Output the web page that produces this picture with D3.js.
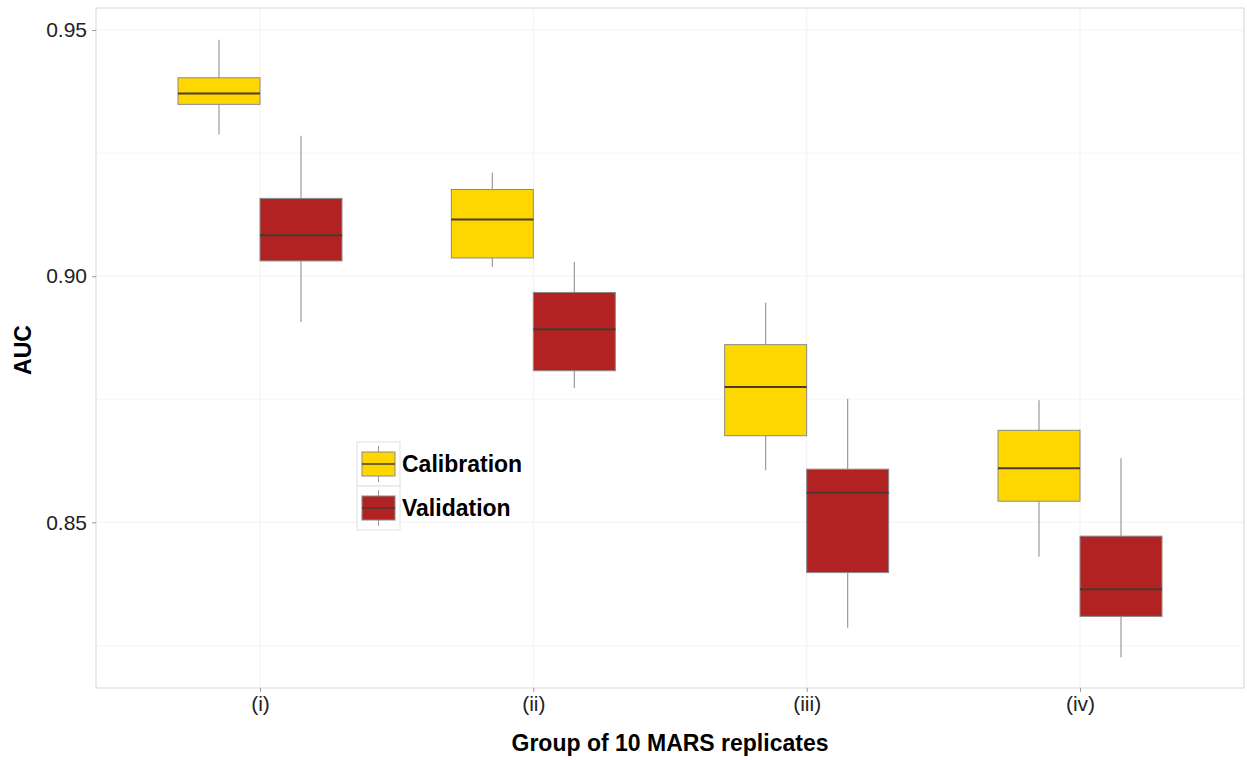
<!DOCTYPE html>
<html>
<head>
<meta charset="utf-8">
<script src="https://cdn.jsdelivr.net/npm/d3@7"></script>
<style>
  body { margin: 0; background: #fff; }
  text { font-family: "Liberation Sans", Arial, sans-serif; }
</style>
</head>
<body>
<svg id="chart" width="1247" height="760"></svg>
<script>
// groups of 10 MARS replicates
var groups = ['(i)', '(ii)', '(iii)', '(iv)']
// [lower whisker, q1, median, q3, upper whisker]
var calibration = [
  [0.9288, 0.9349, 0.9371, 0.9403, 0.9480],
  [0.9019, 0.9037, 0.9115, 0.9176, 0.9210],
  [0.8606, 0.8676, 0.8775, 0.8861, 0.8946],
  [0.8430, 0.8543, 0.8610, 0.8687, 0.8748]
]
var validation = [
  [0.8907, 0.9031, 0.9083, 0.9158, 0.9285],
  [0.8773, 0.8808, 0.8892, 0.8967, 0.9029],
  [0.8286, 0.8398, 0.8560, 0.8608, 0.8751],
  [0.8226, 0.8309, 0.8364, 0.8472, 0.8630]
]
var seriesNames = ['Calibration', 'Validation']
var yTicks = [0.85, 0.90, 0.95]
var yMinor = [0.825, 0.875, 0.925]

var colors = {Calibration: '#FFD700', Validation: '#B22222'}

var svg = d3.select('#chart')
var panel = {left: 96, right: 1244, top: 8, bottom: 688}

var x = d3.scalePoint()
    .domain(groups)
    .range([panel.left, panel.right])
    .padding(0.6)
var step = x.step()
var boxW = step * 0.3

var y = d3.scaleLinear()
    .domain([0.81636, 0.95447])
    .range([panel.bottom, panel.top])

// grid
var grid = svg.append('g')
grid.selectAll('.minor').data(yMinor).enter().append('line')
    .attr('x1', panel.left).attr('x2', panel.right)
    .attr('y1', d => y(d)).attr('y2', d => y(d))
    .attr('stroke', '#f6f6f6').attr('stroke-width', 1)
grid.selectAll('.major').data(yTicks).enter().append('line')
    .attr('x1', panel.left).attr('x2', panel.right)
    .attr('y1', d => y(d)).attr('y2', d => y(d))
    .attr('stroke', '#f1f1f1').attr('stroke-width', 1)
grid.selectAll('.vmajor').data(groups).enter().append('line')
    .attr('x1', d => x(d)).attr('x2', d => x(d))
    .attr('y1', panel.top).attr('y2', panel.bottom)
    .attr('stroke', '#f1f1f1').attr('stroke-width', 1)

// boxes
var boxData = []
groups.forEach(function (g, i) {
  boxData.push({group: g, series: 'Calibration', s: calibration[i], off: -0.15})
  boxData.push({group: g, series: 'Validation', s: validation[i], off: 0.15})
})

var boxes = svg.append('g').selectAll('g.box')
    .data(boxData)
    .enter().append('g')
    .classed('box', true)
    .attr('transform', d => `translate(${x(d.group) + d.off * step}, 0)`)

boxes.append('line')
    .attr('x1', 0).attr('x2', 0)
    .attr('y1', d => y(d.s[4])).attr('y2', d => y(d.s[3]))
    .attr('stroke', '#9a9a9a').attr('stroke-width', 1.2)
boxes.append('line')
    .attr('x1', 0).attr('x2', 0)
    .attr('y1', d => y(d.s[1])).attr('y2', d => y(d.s[0]))
    .attr('stroke', '#9a9a9a').attr('stroke-width', 1.2)
boxes.append('rect')
    .attr('x', -boxW / 2)
    .attr('width', boxW)
    .attr('y', d => y(d.s[3]))
    .attr('height', d => y(d.s[1]) - y(d.s[3]))
    .attr('fill', d => colors[d.series])
    .attr('stroke', '#8a8a8a').attr('stroke-width', 1)
boxes.append('line')
    .attr('x1', -boxW / 2).attr('x2', boxW / 2)
    .attr('y1', d => y(d.s[2])).attr('y2', d => y(d.s[2]))
    .attr('stroke', '#4a3a30').attr('stroke-width', 2)

// panel border
svg.append('rect')
    .attr('x', panel.left).attr('y', panel.top)
    .attr('width', panel.right - panel.left)
    .attr('height', panel.bottom - panel.top)
    .attr('fill', 'none').attr('stroke', '#dcdcdc').attr('stroke-width', 1.2)

// axes
var yAxis = svg.append('g')
    .attr('transform', `translate(${panel.left}, 0)`)
    .call(d3.axisLeft(y).tickValues(yTicks).tickFormat(d3.format('.2f')).tickSize(4).tickPadding(5))
var xAxis = svg.append('g')
    .attr('transform', `translate(0, ${panel.bottom})`)
    .call(d3.axisBottom(x).tickSize(4).tickPadding(4))
;[yAxis, xAxis].forEach(function (a) {
  a.select('.domain').remove()
  a.selectAll('.tick line').attr('stroke', '#999')
  a.selectAll('.tick text')
      .attr('fill', '#222')
      .style('font-size', '21px')
      .style('font-family', '"Liberation Sans", Arial, sans-serif')
})

svg.append('text')
    .attr('x', 670)
    .attr('y', 751)
    .attr('text-anchor', 'middle')
    .style('font-size', '23px').style('font-weight', 'bold')
    .text('Group of 10 MARS replicates')
svg.append('text')
    .attr('transform', `translate(31, 350) rotate(-90)`)
    .attr('text-anchor', 'middle')
    .style('font-size', '23px').style('font-weight', 'bold')
    .text('AUC')

// legend
var legend = svg.append('g').attr('transform', 'translate(357, 442)')
var keyH = 44
var keys = legend.selectAll('g.key').data(seriesNames).enter().append('g')
    .attr('transform', (d, i) => `translate(0, ${i * keyH})`)
keys.append('rect')
    .attr('width', 43).attr('height', keyH)
    .attr('fill', '#fff').attr('stroke', '#e0e0e0')
keys.append('line')
    .attr('x1', 21.5).attr('x2', 21.5).attr('y1', 4).attr('y2', keyH - 4)
    .attr('stroke', '#9a9a9a')
keys.append('rect')
    .attr('x', 5).attr('width', 33).attr('y', 10).attr('height', keyH - 20)
    .attr('fill', d => colors[d]).attr('stroke', '#8a8a8a')
keys.append('line')
    .attr('x1', 5).attr('x2', 38).attr('y1', keyH / 2).attr('y2', keyH / 2)
    .attr('stroke', '#4a3a30').attr('stroke-width', 1.5)
keys.append('text')
    .attr('x', 45).attr('y', keyH / 2)
    .attr('dy', '0.36em')
    .style('font-size', '23px').style('font-weight', 'bold')
    .text(d => d)
</script>
</body>
</html>
